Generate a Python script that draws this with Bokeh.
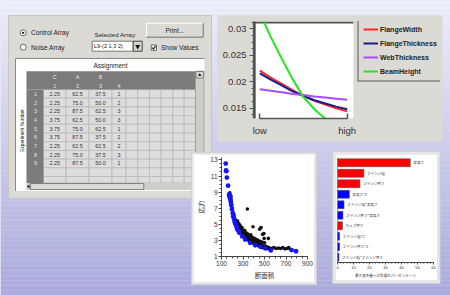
import numpy as np
from bokeh.plotting import figure
from bokeh.models import (Range1d, FactorRange, LinearAxis, FixedTicker, Legend,
                          LegendItem, Span, GridBox, BoxAnnotation)
from bokeh.core.properties import value
from bokeh.embed import file_html
from bokeh.resources import INLINE

UI_FONT = "Liberation Sans"
JP_FONT = "Noto Sans CJK JP"

# ---------------- data ----------------
# orthogonal array table
exp_numbers = ["1", "2", "3", "4", "5", "6", "7", "8", "9"]
header_factors = ["C", "A", "B", ""]
header_columns = ["1", "2", "3", "4"]
col_C = [2.25, 2.25, 2.25, 3.75, 3.75, 3.75, 2.25, 2.25, 2.25]
col_A = [62.5, 75.0, 87.5, 62.5, 75.0, 87.5, 62.5, 75.0, 87.5]
col_B = [37.5, 50.0, 62.5, 50.0, 62.5, 37.5, 62.5, 37.5, 50.0]
col_4 = [1, 2, 3, 3, 1, 2, 2, 3, 1]
selected_array = "L9-(2 1,3 2)"

# main effects line chart
level_labels = {0: "low", 1: "high"}
level_pos = [0.0, 0.125, 0.25, 0.375, 0.5, 0.625, 0.75, 0.875, 1.0]
series_names = ["FlangeWidth", "FlangeThickness", "WebThickness", "BeamHeight"]
flange_width = [0.0221, 0.0208, 0.0196, 0.0184, 0.0173, 0.0164, 0.0157, 0.0150, 0.0144]
flange_thickness = [0.0216, 0.0204, 0.0193, 0.0182, 0.0173, 0.0165, 0.0159, 0.0153, 0.0148]
web_thickness = [0.0186, 0.0183, 0.0180, 0.0177, 0.0175, 0.0172, 0.0170, 0.0168, 0.0166]
beam_height = [0.0330, 0.0285, 0.0244, 0.0205, 0.0171, 0.0148, 0.0130, 0.0116, 0.0105]
series_colors = ["#ff2424", "#1c1c8c", "#a64dff", "#22e622"]

# scatter: stress vs section area (blue = pareto front, black = other designs)
pareto_area = [139, 142, 145, 150, 161, 171, 174, 177, 183, 186, 190, 197, 204, 209, 215,
               222, 231, 239, 247, 256, 266, 293, 320, 366, 414, 463, 509, 558, 752, 793]
pareto_stress = [12.55, 11.7, 11.6, 10.8, 9.8, 8.7, 8.5, 8.35, 8.1, 7.8, 7.4, 6.9, 6.4,
                 6.0, 5.7, 5.3, 5.0, 4.7, 4.4, 4.2, 3.95, 3.5, 3.1, 2.7, 2.4, 2.2, 2.0,
                 1.75, 1.8, 1.65]
other_area = [178, 180, 182, 184, 186, 188, 190, 193, 196, 198, 201, 205, 208, 212, 216,
              220, 224, 228, 232, 236, 240, 244, 248, 252, 256, 260, 264, 268, 272, 276,
              280, 284, 288, 292, 296, 300, 304, 308, 312, 316, 320, 325, 330, 335, 340,
              341, 345, 350, 355, 360, 365, 370, 374, 378, 382, 388, 393, 395, 400, 405,
              410, 416, 422, 428, 434, 440, 446, 452, 455, 458, 464, 468, 470, 476, 482,
              484, 490, 495, 497, 500, 508, 515, 522, 530, 536, 540, 550, 560, 575, 590,
              610, 630, 650, 670, 690, 710, 725, 740,
              250, 262, 275, 290, 305, 318, 332, 346, 360, 372, 385, 398, 412, 425, 440,
              460, 478, 500]
other_stress = [8.9, 8.6, 8.4, 8.2, 7.9, 8.5, 7.7, 7.5, 7.1, 6.8, 6.9, 6.5, 6.3, 6.0, 6.2,
                5.8, 5.5, 5.6, 5.3, 5.0, 5.2, 4.8, 5.0, 4.6, 4.9, 4.4, 4.7, 4.3, 4.6, 4.1,
                4.4, 4.0, 4.3, 3.8, 4.1, 3.7, 4.0, 3.6, 3.9, 3.4, 3.7, 3.3, 3.6, 3.2, 3.4,
                6.9, 3.1, 3.3, 3.0, 3.3, 2.9, 3.2, 3.5, 2.8, 3.1, 2.7, 4.7, 3.0, 2.6, 2.9,
                2.5, 2.8, 2.5, 2.7, 2.4, 2.6, 2.3, 2.5, 4.4, 2.3, 2.6, 4.6, 2.2, 2.4, 3.75,
                2.1, 2.3, 3.85, 3.25, 2.1, 2.3, 2.0, 2.2, 2.0, 3.25, 2.1, 1.9, 2.0, 2.05, 2.1,
                2.0, 2.05, 2.0, 2.1, 1.95, 2.0, 2.1, 1.9,
                5.4, 5.1, 4.8, 4.6, 4.3, 4.2, 3.9, 3.8, 3.6, 3.7, 3.4, 3.3, 3.2, 3.1, 3.0,
                2.9, 2.8, 2.7]
x_ticks_area = [100, 300, 500, 700, 900]
y_ticks_stress = [1, 3, 5, 7, 9, 11, 13]

# pareto bar chart: percent contribution
bar_labels = ["梁高さ", "フランジ幅", "フランジ厚さ", "梁高さ^2", "フランジ幅*梁高さ",
              "フランジ厚さ*梁高さ", "ウェブ厚さ", "フランジ幅^2", "フランジ厚さ^2",
              "フランジ幅*フランジ厚さ"]
bar_values = [45.5, 16.5, 14.0, 7.4, 4.1, 3.4, 3.1, 1.3, 1.3, 0.9]
bar_colors = ["#ff0000", "#ff0000", "#ff0000", "#0000ff", "#0000ff", "#0000ff",
              "#ff0000", "#0000ff", "#0000ff", "#0000ff"]
bar_ticks = [0, 10, 20, 30, 40, 50, 60]


def fig(**kw):
    return figure(output_backend="svg", toolbar_location=None, **kw)


# ---------------- background + table panel (pixel space) ----------------
bg = fig(width=450, height=295, x_range=Range1d(0, 450), y_range=Range1d(295, 0),
         x_axis_type=None, y_axis_type=None, min_border=0)
bg.grid.visible = False
bg.outline_line_color = None
bg.background_fill_color = "#d8d8f0"
bg.border_fill_color = "#d8d8f0"

top_c = np.array([237, 239, 250])
bot_c = np.array([170, 171, 220])
band_top = np.arange(0, 295, 5)
band_cols = []
for t in band_top:
    f = t / 290.0
    c = (top_c * (1 - f) + bot_c * f).astype(int)
    band_cols.append("#%02x%02x%02x" % tuple(c))
bg.quad(left=0, right=450, top=band_top, bottom=band_top + 5, fill_color=band_cols,
        line_color=None)

PANEL = "#dcdad5"
# table panel
bg.quad(left=8, right=211, top=15, bottom=198, fill_color=PANEL, line_color="#c8c6c1")


def txt(x, y, t, size="6.5px", color="#222222", align="left", font=UI_FONT, angle=0):
    bg.text(x=[x], y=[y], text=[t], text_font=value(font), text_font_size=size,
            text_color=color, text_align=align, text_baseline="middle", angle=angle)


# radio buttons
bg.scatter(x=[22.7, 22.7], y=[32.3, 46.7], marker="circle", size=6, fill_color="white",
           line_color="#666666")
bg.scatter(x=[22.7], y=[32.3], marker="circle", size=2.2, fill_color="#111111",
           line_color=None)
txt(30.5, 32.3, "Control Array")
txt(30.5, 46.7, "Noise Array")
txt(94, 34, "Selected Array:", size="6.2px")
# dropdown
bg.quad(left=91.7, right=132.7, top=40.7, bottom=50.7, fill_color="white", line_color="#777777")
txt(93.5, 45.8, selected_array, size="5.6px")
bg.quad(left=132.7, right=141.7, top=40.7, bottom=50.7, fill_color="#d4d2cd", line_color="#444444")
bg.scatter(x=[137.2], y=[46], marker="inverted_triangle", size=5, fill_color="#111111",
           line_color=None)
# print button
bg.quad(left=146, right=202.7, top=22.7, bottom=36.7, fill_color=PANEL, line_color=None)
bg.segment(x0=[146, 146, 202.7, 146], y0=[22.7, 22.7, 22.7, 36.7],
           x1=[202.7, 146, 202.7, 202.7], y1=[22.7, 36.7, 36.7, 36.7],
           line_color=["white", "white", "#707070", "#707070"], line_width=1)
txt(174.3, 29.8, "Print...", align="center")
# checkbox
bg.quad(left=150.7, right=156, top=44.5, bottom=49.8, fill_color="white", line_color="#666666")
bg.line(x=[151.7, 153, 155], y=[47, 48.6, 45.5], line_color="#111111", line_width=1.1)
txt(160.5, 47.3, "Show Values")

# white table area
bg.quad(left=15, right=204, top=58, bottom=190.5, fill_color="white", line_color=None)
bg.segment(x0=[15, 15], y0=[58, 58], x1=[204, 15], y1=[58, 190.5], line_color="#888888",
           line_width=1)
txt(110, 65, "Assignment", align="center")
txt(21.5, 130, "Experiment Number", size="4.8px", align="center", angle=np.pi / 2)

col_edges = [43, 65.5, 88.5, 111.5, 125.5, 137.3, 149, 160.7, 172.3, 183.7, 195]
row_top0, row_h = 89.0, 8.7
cl, cr, ct, cb = [], [], [], []
for r in range(11):
    for c in range(len(col_edges) - 1):
        cl.append(col_edges[c]); cr.append(col_edges[c + 1])
        ct.append(row_top0 + r * row_h); cb.append(min(row_top0 + (r + 1) * row_h, 182.5))
bg.quad(left=cl, right=cr, top=ct, bottom=cb, fill_color="#dddddd", line_color="#b9b9b9",
        line_width=0.8)
bg.quad(left=26, right=195, top=70.7, bottom=89, fill_color="#7b7b7b", line_color=None)
bg.quad(left=26, right=43, top=89, bottom=182.5, fill_color="#7b7b7b", line_color=None)

col_centers = [(col_edges[i] + col_edges[i + 1]) / 2 for i in range(4)]
bg.text(x=col_centers, y=[76.7] * 4, text=header_factors, text_font=value(UI_FONT),
        text_font_size="5.5px", text_color="#e4e4e4", text_align="center", text_baseline="middle")
bg.text(x=col_centers, y=[85] * 4, text=header_columns, text_font=value(UI_FONT),
        text_font_size="5.5px", text_color="#e4e4e4", text_align="center", text_baseline="middle")
row_centers = [row_top0 + (i + 0.5) * row_h for i in range(len(exp_numbers))]
bg.text(x=[35] * len(exp_numbers), y=row_centers, text=exp_numbers, text_font=value(UI_FONT),
        text_font_size="5.5px", text_color="#e4e4e4", text_align="center", text_baseline="middle")
cols_txt = [["%.2f" % v for v in col_C], ["%.1f" % v for v in col_A],
            ["%.1f" % v for v in col_B], [str(v) for v in col_4]]
for ci, vals in enumerate(cols_txt):
    bg.text(x=[col_centers[ci]] * len(vals), y=row_centers, text=vals,
            text_font=value(UI_FONT), text_font_size="5.3px", text_color="#333333",
            text_align="center", text_baseline="middle")
# scrollbars
bg.quad(left=195, right=203.5, top=70.7, bottom=182.5, fill_color="#cfcdc8", line_color="#a0a0a0")
bg.quad(left=195.6, right=202.9, top=71, bottom=77.5, fill_color=PANEL, line_color="#808080")
bg.scatter(x=[199.2], y=[74.5], marker="triangle", size=3.5, fill_color="#222222", line_color=None)
bg.quad(left=26, right=195, top=182.5, bottom=189.5, fill_color="#cfcdc8", line_color=None)
bg.quad(left=30, right=143.3, top=183, bottom=189, fill_color=PANEL, line_color="#808080")
bg.scatter(x=[28], y=[186], marker="triangle", angle=np.pi / 2, size=3.5,
           fill_color="#222222", line_color=None)

# other panels
bg.quad(left=217, right=442, top=15, bottom=141, fill_color=PANEL, line_color=None)
bg.quad(left=191, right=316, top=152, bottom=284, fill_color="#e6e6e8", line_color="#d0d0d4")
bg.quad(left=332, right=439.5, top=151, bottom=283, fill_color="#e6e6e8", line_color="#d0d0d4")

# ---------------- main effects line chart ----------------
X0, X1 = -0.072, 1.072          # extent of the white plotting box
Y0, Y1 = 0.01305, 0.0314
lf = fig(width=225, height=126, x_range=Range1d(X0, 2.068), y_range=Range1d(Y0, Y1),
         x_axis_type=None, y_axis_type=None, min_border_left=36, min_border_right=2,
         min_border_top=6, min_border_bottom=23)
lf.grid.visible = False
lf.border_fill_color = PANEL
lf.background_fill_color = PANEL
lf.outline_line_color = None
lf.add_layout(BoxAnnotation(left=X0, right=X1, fill_color="white", fill_alpha=1,
                            line_color="#e4e4e4", level="underlay"))
lf.add_layout(BoxAnnotation(left=X0, right=X1, top=Y1, bottom=Y1 - 0.0004, fill_color="#505050",
                            fill_alpha=1, line_color=None, level="underlay"))
lf.add_layout(BoxAnnotation(left=X0, right=X0 + 0.025, fill_color="#505050",
                            fill_alpha=1, line_color=None, level="underlay"))


def spacer_axis():
    return LinearAxis(ticker=FixedTicker(ticks=[]), axis_line_color=None,
                      major_tick_line_color=None, minor_tick_line_color=None,
                      major_tick_out=4, major_tick_in=0, minor_tick_out=0, minor_tick_in=0,
                      major_label_standoff=0, major_label_text_font_size="1px")


lf.add_layout(spacer_axis(), "left")
ya = LinearAxis(ticker=FixedTicker(ticks=[0.015, 0.02, 0.025, 0.03],
                                   minor_ticks=[0.01375, 0.01625, 0.0175, 0.01875, 0.02125,
                                                0.0225, 0.02375, 0.02625, 0.0275, 0.02875,
                                                0.03125]),
                major_label_overrides={0.015: "0.015", 0.02: "0.02", 0.025: "0.025", 0.03: "0.03"},
                axis_line_color="#555555", axis_line_width=1.3,
                major_tick_line_color="#555555", major_tick_out=4, major_tick_in=0,
                minor_tick_line_color="#555555", minor_tick_out=2, minor_tick_in=0,
                major_label_standoff=3, major_label_text_font=UI_FONT,
                major_label_text_font_size="9.5px", major_label_text_color="#333333")
lf.add_layout(ya, "left")
lf.add_layout(spacer_axis(), "below")
xa = LinearAxis(ticker=FixedTicker(ticks=[0, 1]), bounds=(0, 1),
                major_label_overrides=level_labels,
                axis_line_color="#555555", axis_line_width=1.5,
                major_tick_line_color="#555555", major_tick_line_width=1.5,
                major_tick_in=5, major_tick_out=0, minor_tick_line_color=None,
                major_label_standoff=6, major_label_text_font=UI_FONT,
                major_label_text_font_size="9.5px", major_label_text_color="#333333")
lf.add_layout(xa, "below")

renderers = []
for ys, col in zip([flange_width, flange_thickness, web_thickness, beam_height], series_colors):
    renderers.append(lf.line(level_pos, ys, line_color=col, line_width=2))

legend = Legend(items=[LegendItem(label=n, renderers=[r]) for n, r in zip(series_names, renderers)],
                location=(104, 36), label_text_font=UI_FONT, label_text_font_style="bold",
                label_text_font_size="7px", label_text_color="#222222",
                label_height=10, glyph_height=10, glyph_width=15, label_standoff=2,
                spacing=4, padding=4, margin=0, border_line_color="#555555",
                border_line_width=2, background_fill_color=PANEL, background_fill_alpha=1)
lf.add_layout(legend)

# ---------------- scatter ----------------
sf = fig(width=121, height=128, x_range=Range1d(100, 900), y_range=Range1d(1, 13.3),
         min_border_left=18, min_border_right=7, min_border_top=0, min_border_bottom=21)
sf.grid.visible = False
sf.border_fill_color = "white"
sf.background_fill_color = "white"
sf.outline_line_color = None
sf.scatter(other_area, other_stress, marker="circle", size=3.6, fill_color="#111111",
           line_color=None)
sf.scatter(pareto_area, pareto_stress, marker="circle", size=4.8, fill_color="#1414ff",
           line_color=None)
sf.xaxis.ticker = FixedTicker(ticks=x_ticks_area, minor_ticks=list(range(100, 901, 50)))
sf.yaxis.ticker = FixedTicker(ticks=y_ticks_stress, minor_ticks=[v / 2 for v in range(2, 27)])
sf.xaxis.axis_label = "断面積"
sf.yaxis.axis_label = "応力"
for ax in (sf.xaxis, sf.yaxis):
    ax.axis_line_color = "#444444"
    ax.major_tick_line_color = "#444444"
    ax.minor_tick_line_color = "#444444"
    ax.major_tick_out = 3
    ax.major_tick_in = 0
    ax.minor_tick_out = 2
    ax.minor_tick_in = 0
    ax.major_label_standoff = 1
    ax.major_label_text_font = UI_FONT
    ax.major_label_text_font_size = "6.5px"
    ax.major_label_text_color = "#333333"
    ax.axis_label_text_font = JP_FONT
    ax.axis_label_text_font_size = "6.5px"
    ax.axis_label_text_font_style = "normal"
    ax.axis_label_text_color = "#333333"
    ax.axis_label_standoff = 1

# ---------------- bar chart ----------------
bf = fig(width=102, height=126, x_range=Range1d(0, 60), y_range=FactorRange(*reversed(bar_labels)),
         y_axis_location=None, min_border_left=2, min_border_right=4, min_border_top=3,
         min_border_bottom=13)
bf.grid.visible = False
bf.border_fill_color = "white"
bf.background_fill_color = "white"
bf.outline_line_color = None
bf.hbar(y=bar_labels, right=bar_values, left=0, height=0.75, fill_color=bar_colors,
        line_color="#555555", line_width=0.6)
bf.text(x=bar_values, y=bar_labels, text=bar_labels, x_offset=3, text_font=value(JP_FONT),
        text_font_size="3.6px", text_color="#333333", text_baseline="middle")
bf.add_layout(Span(location=0, dimension="height", line_color="#444444", line_width=1))
bf.xaxis.ticker = FixedTicker(ticks=bar_ticks, minor_ticks=list(range(0, 61, 2)))
bf.xaxis.axis_label = "最大変形量への影響のパーセンテージ"
ax = bf.xaxis
ax.axis_line_color = "#444444"
ax.major_tick_line_color = "#444444"
ax.minor_tick_line_color = "#444444"
ax.major_tick_out = 2
ax.major_tick_in = 0
ax.minor_tick_out = 1
ax.minor_tick_in = 0
ax.major_label_standoff = 1
ax.major_label_text_font = UI_FONT
ax.major_label_text_font_size = "4px"
ax.major_label_text_color = "#333333"
ax.axis_label_text_font = JP_FONT
ax.axis_label_text_font_size = "3.6px"
ax.axis_label_text_font_style = "normal"
ax.axis_label_text_color = "#333333"
ax.axis_label_standoff = 1

# ---------------- composite layout ----------------
grid = GridBox(children=[(bg, 0, 0, 6, 7), (lf, 1, 2, 1, 4), (sf, 3, 1, 2, 2), (bf, 3, 4, 1, 1)],
               rows=["15px", "126px", "13px", "126px", "2px", "13px"],
               cols=["193px", "24px", "97px", "21px", "102px", "5px", "8px"],
               spacing=0)

open("out.html", "w").write(file_html(grid, INLINE))
